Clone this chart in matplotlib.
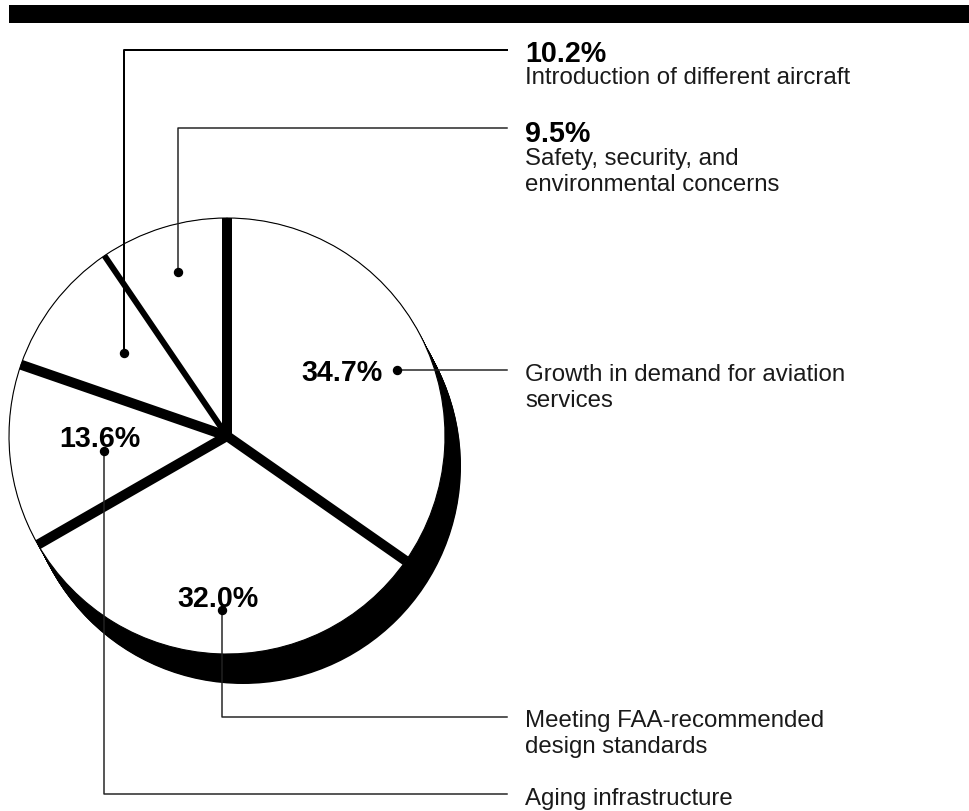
import numpy as np
import matplotlib
matplotlib.use("Agg")
import matplotlib.pyplot as plt
from matplotlib.patches import Wedge, Circle, Rectangle

# ---- data ----
categories = [
    "Growth in demand for aviation\nservices",
    "Meeting FAA-recommended\ndesign standards",
    "Aging infrastructure",
    "Introduction of different aircraft",
    "Safety, security, and\nenvironmental concerns",
]
values = [34.7, 32.0, 13.6, 10.2, 9.5]
pct_labels = ["34.7%", "32.0%", "13.6%", "10.2%", "9.5%"]

plt.rcParams['font.family'] = ['Liberation Sans', 'DejaVu Sans']

W, H = 969, 812
fig = plt.figure(figsize=(W / 100, H / 100), dpi=100)
ax = fig.add_axes([0, 0, 1, 1])
ax.set_xlim(0, W)
ax.set_ylim(H, 0)          # pixel-like coordinates, y downwards
ax.axis('off')

PX = 0.72  # points per pixel at dpi 100

# top black band
ax.add_patch(Rectangle((9, 6), W - 9, 18, facecolor='black', edgecolor='none'))

# pie geometry (layout)
cx, cy, R = 227, 437, 218
sh_dx, sh_dy = 16, 30

# extruded shadow
for t in np.linspace(0, 1, 41):
    ax.add_patch(Circle((cx + sh_dx * t, cy + sh_dy * t), R,
                        facecolor='black', edgecolor='none', zorder=1))

# wedges: start at 12 o'clock, clockwise (screen angles)
total = sum(values)
starts = []
ang = 90.0
for v in values:
    span = v / total * 360.0
    phi2 = ang
    phi1 = ang - span
    starts.append(phi2)
    # y axis inverted -> data angles are negated screen angles
    ax.add_patch(Wedge((cx, cy), R, -phi2, -phi1, facecolor='white',
                       edgecolor='black', linewidth=0.8, zorder=2))
    ang = phi1

# black separator bars along wedge boundaries
bar_w = [10, 10, 10, 10, 6]
for phi, bw in zip(starts, bar_w):
    a = np.deg2rad(phi)
    ax.plot([cx, cx + R * np.cos(a)], [cy, cy - R * np.sin(a)],
            color='black', linewidth=bw * PX, solid_capstyle='butt', zorder=3)

# ---- labels and leaders ----
fs_reg = 24 * PX
fs_bold = 28.6 * PX
lc = '#222222'
llw = 1.5 * PX
dot_ms = 8 * PX
tx = 525
lx_end = 507

def dot(x, y):
    ax.plot([x], [y], 'o', color='black', markersize=dot_ms, zorder=6)

# 34.7%
ax.text(383, 381, pct_labels[0], ha='right', va='baseline', fontsize=fs_bold,
        fontweight='bold', zorder=6)
dot(397, 371)
ax.plot([397, lx_end], [371, 371], color=lc, lw=llw, zorder=5)
l1, l2 = categories[0].split("\n")
ax.text(tx, 381, l1, va='baseline', fontsize=fs_reg, color='#1a1a1a')
ax.text(tx, 407, l2, va='baseline', fontsize=fs_reg, color='#1a1a1a')

# 32.0%
ax.text(177, 607, pct_labels[1], ha='left', va='baseline', fontsize=fs_bold,
        fontweight='bold', zorder=6)
dot(222, 611)
ax.plot([222, 222, lx_end], [611, 718, 718], color=lc, lw=llw, zorder=5)
l1, l2 = categories[1].split("\n")
ax.text(tx, 727, l1, va='baseline', fontsize=fs_reg, color='#1a1a1a')
ax.text(tx, 753, l2, va='baseline', fontsize=fs_reg, color='#1a1a1a')

# 13.6%
ax.text(59, 447, pct_labels[2], ha='left', va='baseline', fontsize=fs_bold,
        fontweight='bold', zorder=6)
dot(104, 452)
ax.plot([104, 104, lx_end], [452, 795, 795], color=lc, lw=llw, zorder=5)
ax.text(tx, 805, categories[2], va='baseline', fontsize=fs_reg, color='#1a1a1a')

# 10.2%
dot(124, 354)
ax.plot([124, 124, lx_end], [354, 51, 51], color='black', lw=2 * PX, zorder=5)
ax.text(tx, 62, pct_labels[3], va='baseline', fontsize=fs_bold, fontweight='bold')
ax.text(tx, 84, categories[3], va='baseline', fontsize=fs_reg, color='#1a1a1a')

# 9.5%
dot(178, 273)
ax.plot([178, 178, lx_end], [273, 129, 129], color=lc, lw=llw, zorder=5)
ax.text(tx, 142, pct_labels[4], va='baseline', fontsize=fs_bold, fontweight='bold')
l1, l2 = categories[4].split("\n")
ax.text(tx, 165, l1, va='baseline', fontsize=fs_reg, color='#1a1a1a')
ax.text(tx, 191, l2, va='baseline', fontsize=fs_reg, color='#1a1a1a')

fig.savefig("out.png", dpi=100, facecolor='white')
